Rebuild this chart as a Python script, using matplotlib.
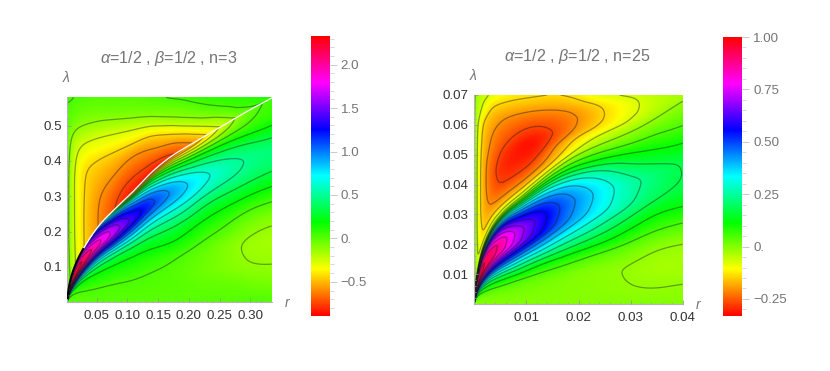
import colorsys
import numpy as np
import matplotlib
matplotlib.use("Agg")
import matplotlib.pyplot as plt
from matplotlib.colors import ListedColormap, Normalize
from matplotlib.cm import ScalarMappable

plt.rcParams['font.family'] = ['Liberation Sans', 'DejaVu Sans']
plt.rcParams['mathtext.fontset'] = 'custom'
plt.rcParams['mathtext.rm'] = 'Liberation Sans'
plt.rcParams['mathtext.it'] = 'Liberation Sans:italic'
plt.rcParams['contour.negative_linestyle'] = 'solid'

# ---- panel 1 (n=3): values ----
L_RANGE = (0.002, 0.335, 0.0, 0.58)
L_VMIN, L_VMAX = -0.89, 2.33
L_ridge_r = [0.002, 0.006, 0.015, 0.031, 0.055, 0.08, 0.107, 0.142, 0.169, 0.212, 0.253, 0.3, 0.335]
L_ridge_l = [0.012, 0.055, 0.105, 0.16, 0.22, 0.265, 0.31, 0.372, 0.41, 0.456, 0.498, 0.545, 0.578]
L_low_r = [0.002, 0.01, 0.02, 0.03, 0.05, 0.075, 0.10, 0.125, 0.15, 0.175, 0.2, 0.225, 0.25, 0.275, 0.3, 0.335]
L_low_u = [0, .1, .2, .3, .4, .5, .6, .7, .75, .8, .85, .9, .95, 1]
L_low_v = [
    [0, 0, .01, .05, .25, .7, 1.4, 2.0, 2.1, 2.0, 1.8, 1.5, 1.2, 1.0],
    [0, .005, .015, .07, .25, .75, 1.5, 2.2, 2.3, 2.3, 2.2, 2.05, 1.85, 1.6],
    [0, .005, .02, .08, .2, .6, 1.3, 2.1, 2.2, 2.25, 2.2, 2.05, 1.85, 1.65],
    [0, .01, .03, .1, .18, .5, 1.1, 1.95, 2.12, 2.15, 2.05, 1.9, 1.7, 1.5],
    [0, .01, .035, .1, .2, .45, .95, 1.7, 1.93, 1.93, 1.8, 1.6, 1.35, 1.05],
    [0, .01, .03, .09, .18, .38, .85, 1.5, 1.71, 1.7, 1.55, 1.3, .95, .3],
    [0, .01, .03, .09, .17, .35, .75, 1.25, 1.44, 1.38, 1.25, 1.05, .6, -.5],
    [0, .01, .025, .08, .16, .33, .65, 1.08, 1.26, 1.22, 1.05, .75, .3, -.85],
    [0, .005, .015, .06, .17, .33, .6, .95, 1.06, 1.0, .8, .45, .1, -.82],
    [0, .005, .01, .04, .18, .33, .58, .85, .92, .85, .62, .32, -.1, -.74],
    [0, -.01, -.02, .01, .11, .25, .5, .76, .79, .72, .5, .23, -.2, -.63],
    [0, -.02, -.05, -.03, .05, .18, .36, .62, .68, .6, .42, .18, -.18, -.5],
    [.01, -.02, -.07, -.07, .02, .14, .33, .55, .59, .52, .36, .15, -.12, -.28],
    [.01, -.03, -.1, -.11, -.03, .1, .31, .5, .52, .46, .32, .13, -.05, -.13],
    [.02, -.05, -.13, -.15, -.09, .05, .27, .46, .47, .4, .26, .08, .02, 0],
    [.03, -.08, -.13, -.16, -.11, .04, .24, .41, .42, .33, .2, .12, .08, .06],
]
L_up_r = [0.002, 0.006, 0.015, 0.03, 0.055, 0.08, 0.104, 0.13, 0.155, 0.18, 0.21, 0.23, 0.25, 0.275, 0.30, 0.335]
L_up_w = [0, .1, .2, .3, .4, .5, .6, .7, .8, .9, 1]
L_up_v = [
    [.1, 0, -.03, -.05, -.05, -.05, -.05, -.05, -.03, 0, .04],
    [-.12, -.14, -.15, -.16, -.16, -.16, -.15, -.12, -.08, 0, .04],
    [-.27, -.28, -.29, -.29, -.29, -.29, -.28, -.24, -.13, -.03, .03],
    [-.44, -.44, -.44, -.44, -.44, -.43, -.36, -.27, -.14, -.05, .02],
    [-.6, -.6, -.59, -.55, -.5, -.44, -.35, -.26, -.14, -.05, 0],
    [-.74, -.71, -.65, -.585, -.52, -.44, -.34, -.25, -.125, -.04, .01],
    [-.85, -.78, -.72, -.64, -.57, -.44, -.34, -.23, -.11, -.04, 0],
    [-.85, -.76, -.69, -.62, -.55, -.44, -.33, -.2, -.09, -.03, .01],
    [-.82, -.74, -.64, -.55, -.46, -.37, -.25, -.12, -.06, -.01, .03],
    [-.74, -.66, -.59, -.48, -.38, -.27, -.14, -.09, -.05, -.01, .04],
    [-.58, -.5, -.4, -.32, -.23, -.14, -.1, -.05, -.01, .04, .06],
    [-.43, -.35, -.28, -.21, -.15, -.09, -.05, -.01, .04, .06, .08],
    [-.28, -.23, -.19, -.15, -.11, -.06, -.02, .03, .05, .07, .08],
    [-.13, -.1, -.07, -.03, .01, .04, .05, .06, .07, .08, .09],
    [0, .03, .05, .06, .07, .08, .09, .09, .09, .1, .1],
    [.05, .06, .07, .08, .08, .09, .09, .09, .1, .1, .1],
]
L_levels = [-.737, -.584, -.43, -.277, -.124, .029, .18, .336, .49, .64, .795, .95, 1.10, 1.26, 1.41, 1.56, 1.72, 1.87, 2.02, 2.18]
L_xticks = [.05, .10, .15, .20, .25, .30]
L_yticks = [.1, .2, .3, .4, .5]
L_bar_ticks = [-.5, 0, .5, 1.0, 1.5, 2.0]
L_bar_labels = ['\u22120.5', '0.', '0.5', '1.0', '1.5', '2.0']
L_title = r'$\alpha$=1/2 , $\beta$=1/2 , n=3'

# ---- panel 2 (n=25) ----
R_RANGE = (0.0, 0.04, 0.0, 0.07)
R_VMIN, R_VMAX = -0.33, 1.0
R_ridge_r = [0, .00045, .0017, .0043, .0094, .019, .0318, .04]
R_ridge_l = [.0012, .0089, .0189, .0279, .0363, .049, .0591, .0679]
R_low_r = [.0002, .0005, .001, .002, .003, .005, .0075, .01, .0125, .015, .0175, .02, .025, .03, .035, .04]
R_low_u = [0, .1, .2, .3, .4, .5, .6, .7, .75, .8, .85, .9, .95, 1]
R_low_v = [
    [0, 0, .01, .06, .2, .55, .85, .9, .85, .8, .7, .55, .3, -.015],
    [0, 0, .02, .12, .35, .7, .93, .95, .9, .85, .72, .55, .3, -.015],
    [0, .005, .04, .17, .42, .73, .96, .97, .93, .86, .72, .54, .3, -.015],
    [0, .01, .05, .17, .42, .72, .93, .94, .9, .83, .7, .52, .3, -.015],
    [0, .01, .05, .17, .4, .68, .9, .91, .86, .79, .67, .5, .3, -.015],
    [0, .01, .05, .16, .37, .62, .85, .87, .82, .75, .64, .48, .28, -.015],
    [0, .01, .035, .14, .32, .54, .74, .76, .72, .65, .55, .42, .24, -.015],
    [0, .005, .025, .115, .27, .47, .65, .67, .63, .57, .48, .36, .18, -.015],
    [0, .005, .02, .09, .25, .43, .58, .6, .57, .52, .43, .32, .15, -.015],
    [0, 0, .015, .08, .22, .38, .51, .53, .51, .46, .38, .27, .12, -.015],
    [0, 0, .01, .07, .2, .34, .45, .47, .45, .41, .33, .22, .09, -.015],
    [0, -.003, 0, .055, .175, .305, .4, .42, .4, .36, .29, .17, .07, -.015],
    [0, -.006, -.007, .03, .13, .235, .32, .335, .32, .28, .21, .12, .05, -.015],
    [0, -.012, -.016, .01, .08, .17, .25, .26, .235, .19, .14, .09, .03, -.015],
    [0, -.016, -.03, -.012, .05, .12, .195, .215, .18, .14, .1, .06, .02, -.015],
    [0, -.012, -.03, -.012, .05, .13, .17, .16, .13, .1, .06, .03, .005, -.015],
]
R_up_r = [.0002, .0006, .0015, .003, .0055, .011, .015, .019, .024, .03, .035, .04]
R_up_w = [0, .1, .2, .3, .4, .5, .6, .7, .8, .9, 1]
R_up_v = [
    [-.015, -.015, -.02, -.02, -.02, -.02, -.02, -.02, -.02, -.015, -.01],
    [-.015, -.07, -.08, -.085, -.085, -.085, -.085, -.08, -.07, -.05, -.03],
    [-.015, -.145, -.155, -.165, -.165, -.165, -.16, -.15, -.14, -.08, -.05],
    [-.015, -.145, -.205, -.225, -.235, -.23, -.21, -.195, -.17, -.14, -.076],
    [-.015, -.17, -.24, -.285, -.295, -.28, -.255, -.23, -.2, -.155, -.11],
    [-.015, -.15, -.235, -.28, -.31, -.32, -.29, -.255, -.215, -.17, -.13],
    [-.015, -.125, -.18, -.21, -.25, -.267, -.255, -.235, -.205, -.17, -.14],
    [-.015, -.08, -.115, -.145, -.19, -.21, -.215, -.205, -.185, -.155, -.135],
    [-.015, -.045, -.076, -.11, -.135, -.147, -.15, -.147, -.135, -.11, -.085],
    [-.015, -.03, -.05, -.07, -.08, -.088, -.09, -.09, -.088, -.082, -.07],
    [-.015, -.02, -.03, -.035, -.04, -.045, -.048, -.05, -.05, -.05, -.05],
    [-.015, -.015, -.018, -.02, -.02, -.022, -.022, -.022, -.022, -.022, -.022],
]
R_levels = [-.267, -.203, -.14, -.076, -.013, .05, .114, .178, .241, .305, .37, .432, .495, .56, .622, .686, .75, .812, .876, .94]
R_xticks = [.01, .02, .03, .04]
R_yticks = [.01, .02, .03, .04, .05, .06, .07]
R_bar_ticks = [-.25, 0, .25, .5, .75, 1.0]
R_bar_labels = ['\u22120.25', '0.', '0.25', '0.50', '0.75', '1.00']
R_title = r'$\alpha$=1/2 , $\beta$=1/2 , n=25'

W, H = 830, 371
GREY = '#757575'
hue = ListedColormap([colorsys.hsv_to_rgb(i / 511, 1, 1) for i in range(512)])


def pchip(x, y, xn):
    x = np.asarray(x, float); y = np.asarray(y, float)
    h = np.diff(x); d = np.diff(y) / h
    m = np.zeros_like(y)
    w1 = 2 * h[1:] + h[:-1]; w2 = h[1:] + 2 * h[:-1]
    ok = d[:-1] * d[1:] > 0
    m[1:-1][ok] = (w1[ok] + w2[ok]) / (w1[ok] / d[:-1][ok] + w2[ok] / d[1:][ok])
    m[0], m[-1] = d[0], d[-1]
    i = np.clip(np.searchsorted(x, xn) - 1, 0, len(x) - 2)
    t = (xn - x[i]) / h[i]
    return ((2*t**3 - 3*t**2 + 1) * y[i] + (t**3 - 2*t**2 + t) * h[i] * m[i]
            + (-2*t**3 + 3*t**2) * y[i+1] + (t**3 - t**2) * h[i] * m[i+1])


def soften(V, nu=7, nr=25, passes=2):
    for _ in range(passes):
        for axis, n in ((0, nu), (1, nr)):
            k = np.ones(n) / n
            pad = [(0, 0), (0, 0)]
            pad[axis] = (n // 2, n // 2)
            P = np.pad(V, pad, mode='edge')
            V = np.apply_along_axis(lambda s: np.convolve(s, k, mode='valid'), axis, P)
    return V


def resample(rk, uk, table, rf, uf):
    t = np.asarray(table, float)
    a = np.array([pchip(uk, col, uf) for col in t])
    return np.array([pchip(rk, a[:, j], rf) for j in range(a.shape[1])])  # (nu, nr)


def axes_px(x0, x1, y0, y1):
    return fig.add_axes([x0 / W, 1 - y1 / H, (x1 - x0) / W, (y1 - y0) / H])


def fields(rng, rr, rl, lr, lu, lv, ur, uw, uv):
    rf = rng[0] + (rng[1] - rng[0]) * np.linspace(0, 1, 280) ** 1.7
    uf = np.linspace(0, 1, 180)
    c = np.minimum(pchip(rr, rl, rf), rng[3])
    Vl = resample(lr, lu, lv, rf, uf)
    Vu = resample(ur, uw, uv, rf, uf)
    R = np.tile(rf, (len(uf), 1))
    Ll = np.outer(uf, c)
    Lu = c + np.outer(uf, rng[3] - c)
    return R, Ll, Vl, Lu, Vu


def style(ax, rng, xt, yt, xm, ym, fmtx, fmty, ypad):
    ax.set_xlim(rng[0], rng[1]); ax.set_ylim(rng[2], rng[3])
    for s in ('top', 'right'):
        ax.spines[s].set_visible(False)
    for s in ('left', 'bottom'):
        ax.spines[s].set_color('#b5b5b5'); ax.spines[s].set_linewidth(.8)
    ax.set_xticks(xt); ax.set_yticks(yt)
    ax.set_xticklabels([fmtx % v for v in xt]); ax.set_yticklabels([fmty % v for v in yt])
    ax.set_xticks(xm, minor=True); ax.set_yticks(ym, minor=True)
    ax.tick_params(which='major', length=3, width=.6, color='#9a9a9a', labelsize=9.6, labelcolor='#333333', direction='in')
    ax.tick_params(which='minor', length=1.5, width=.5, color='#a5a5a5', direction='in')
    ax.tick_params(axis='x', which='major', pad=5.5)
    ax.tick_params(axis='y', which='major', pad=ypad)
    ax.set_axisbelow(False)
    ax.set_zorder(3)


def colorbar(x0, x1, y0, y1, vmin, vmax, ticks, labels, minor):
    cax = axes_px(x0, x1, y0, y1)
    sm = ScalarMappable(Normalize(vmin, vmax), hue)
    cb = fig.colorbar(sm, cax=cax)
    cb.set_ticks(ticks); cb.set_ticklabels(labels)
    cb.ax.yaxis.set_ticks(minor, minor=True)
    cb.outline.set_visible(False)
    cb.ax.tick_params(which='major', length=5, width=.6, color='#c0c0c0', labelsize=9.6, labelcolor=GREY, pad=3)
    cb.ax.tick_params(which='minor', length=3, width=.5, color='#c8c8c8')


def label(x, y, s, **kw):
    fig.text(x / W, 1 - y / H, s, ha='center', va='center', color=GREY, **kw)


fig = plt.figure(figsize=(W / 100, H / 100), dpi=100, facecolor='white')
LINE = dict(colors=[(0.1, 0.1, 0.1, .42)], linewidths=.9)

# Panel 1
ax = axes_px(67.3, 271.7, 97.3, 302.3)
R, Ll, Vl, Lu, Vu = fields(L_RANGE, L_ridge_r, L_ridge_l, L_low_r, L_low_u, L_low_v, L_up_r, L_up_w, L_up_v)
for Y, V in ((Ll, soften(Vl)), (Lu, soften(Vu))):
    ax.pcolormesh(R, Y, V, cmap=hue, vmin=L_VMIN, vmax=L_VMAX, shading='gouraud', rasterized=True)
    ax.contour(R, Y, V, levels=L_levels, **LINE)
rr = np.array(L_ridge_r); rl = np.array(L_ridge_l)
rf = np.linspace(rr[0], rr[-1], 400)
cf = pchip(rr, rl, rf)
mask = rf < .028
ax.plot(rf, cf, color='white', lw=.9, zorder=4)
ax.plot(rf[mask], cf[mask], color='black', lw=1.5, zorder=5)
style(ax, L_RANGE, L_xticks, L_yticks, np.arange(.01, .335, .01), np.arange(.02, .58, .02), '%.2f', '%.1f', 3.5)

# Panel 2
ax2 = axes_px(474.3, 682.7, 95, 304)
R, Ll, Vl, Lu, Vu = fields(R_RANGE, R_ridge_r, R_ridge_l, R_low_r, R_low_u, R_low_v, R_up_r, R_up_w, R_up_v)
Rs = np.vstack([R, R[1:]]); Ys = np.vstack([Ll, Lu[1:]]); Vs = soften(np.vstack([Vl, Vu[1:]]))
ax2.pcolormesh(Rs, Ys, Vs, cmap=hue, vmin=R_VMIN, vmax=R_VMAX, shading='gouraud', rasterized=True)
ax2.contour(Rs, Ys, Vs, levels=R_levels, **LINE)
style(ax2, R_RANGE, R_xticks, R_yticks, np.arange(0, .0401, .002), np.arange(.002, .0701, .002), '%.2f', '%.2f', 4)

colorbar(311, 329.7, 36, 315.7, L_VMIN, L_VMAX, L_bar_ticks, L_bar_labels, np.arange(-.8, 2.31, .1))
colorbar(723, 742, 37, 315.7, R_VMIN, R_VMAX, R_bar_ticks, R_bar_labels, np.arange(-.3, 1.0, .05))

label(169, 59, L_title, fontsize=11.6)
label(577.5, 56, R_title, fontsize=11.6)
label(66, 77, r'$\lambda$', fontsize=10)
label(288, 303, r'$r$', fontsize=10)
label(473, 75, r'$\lambda$', fontsize=10)
label(699, 305, r'$r$', fontsize=10)

fig.savefig('out.png', dpi=100)
